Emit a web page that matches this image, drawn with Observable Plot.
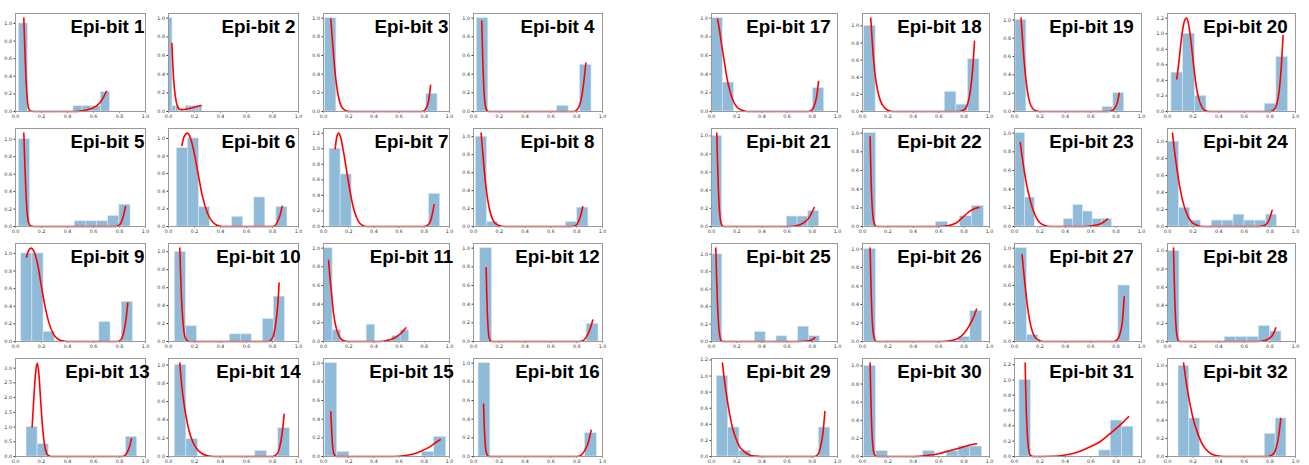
<!DOCTYPE html>
<html><head><meta charset="utf-8">
<script src="https://cdn.jsdelivr.net/npm/d3@7"></script>
<script src="https://cdn.jsdelivr.net/npm/@observablehq/plot@0.6"></script>
<style>
body{margin:0;background:#fff}
#fig{position:relative;width:1309px;height:465px;overflow:hidden}
#fig svg{position:absolute;overflow:visible}
</style>
</head><body><div id="fig"></div>
<script>
const titles = Array.from({length:32},(_, i)=>"Epi-bit " + (i+1));
// histogram range (first bin start, last bin end), 10 bins each
const binLo = [0.026,0.005,0.013,0.026,0.026,0.064,0.048,0.018,0.044,0.049,0.005,0.052,0.085,0.049,0.013,0.039,
               0.0,0.013,0.008,0.031,0.0,0.013,0.008,0.005,0.0,0.013,0.008,0.005,0.042,0.013,0.039,0.086];
const binHi = [0.726,0.26,0.905,0.915,0.885,0.915,0.926,0.891,0.903,0.895,0.68,0.969,0.936,0.933,0.974,0.956,
               0.894,0.921,0.864,0.942,0.854,0.955,0.767,0.856,0.86,0.942,0.908,0.89,0.942,0.942,0.937,0.929];
const binHeights = [
 [1,0,0,0,0,0,0.06,0.06,0.06,0.22],
 [1,0.06,0.06,0,0,0.06,0.06,0.06,0.06,0.06],
 [1,0,0,0,0,0,0,0,0,0.19],
 [1,0,0,0,0,0,0,0.06,0,0.5],
 [1,0,0,0,0,0.06,0.06,0.06,0.12,0.25],
 [0.89,1,0.22,0,0,0.11,0,0.33,0,0.22],
 [1,0.67,0,0,0,0,0,0,0,0.42],
 [1,0.05,0,0,0,0,0,0,0.05,0.21],
 [1,1,0.11,0,0,0,0,0.22,0,0.45],
 [1,0.17,0,0,0,0.08,0.08,0,0.25,0.5],
 [1,0.12,0,0,0,0.18,0,0,0.06,0.12],
 [1,0,0,0,0,0,0,0,0,0.19],
 [1,0.42,0,0,0,0,0,0,0,0.67],
 [1,0.19,0,0,0,0,0,0.06,0,0.31],
 [1,0.05,0,0,0,0,0,0,0.05,0.21],
 [1,0,0,0,0,0,0,0,0,0.25],
 [1,0.31,0,0,0,0,0,0,0,0.25],
 [1,0,0,0,0,0,0,0.23,0.08,0.61],
 [1,0,0,0,0,0,0,0,0.05,0.2],
 [0.5,1,0.2,0,0,0,0,0,0.1,0.7],
 [1,0,0,0,0,0,0,0.11,0.11,0.17],
 [1,0,0,0,0,0,0.05,0,0.11,0.22],
 [1,0.31,0,0,0,0.08,0.23,0.16,0.08,0.08],
 [1,0.22,0.07,0,0.07,0.07,0.14,0.07,0.07,0.14],
 [1,0,0,0,0.11,0,0.06,0,0.17,0.06],
 [1,0,0,0,0,0,0,0,0.05,0.33],
 [1,0.07,0,0,0,0,0,0,0,0.6],
 [1,0,0,0,0,0.05,0.05,0.05,0.17,0.11],
 [1,0.36,0.07,0,0,0,0,0,0,0.36],
 [1,0.06,0,0,0,0.06,0,0.06,0.11,0.11],
 [1,0,0,0,0,0,0,0.08,0.47,0.39],
 [1,0.42,0,0,0,0,0,0,0.25,0.42]
];
// fitted density curves, [x, y] points
const curves = [
 [[0.064,1.06],[0.072,0.7],[0.08,0.4],[0.09,0.15],[0.1,0.04],[0.115,0.005],[0.14,0],[0.45,0],[0.52,0.01],[0.58,0.03],[0.62,0.06],[0.66,0.12],[0.70,0.23]],
 [[0.026,0.73],[0.035,0.45],[0.045,0.25],[0.06,0.1],[0.075,0.04],[0.09,0.022],[0.11,0.02],[0.15,0.03],[0.2,0.045],[0.25,0.065]],
 [[0.058,0.99],[0.07,0.78],[0.085,0.52],[0.1,0.32],[0.12,0.15],[0.14,0.06],[0.17,0.015],[0.2,0.002],[0.22,0],[0.78,0],[0.8,0.01],[0.82,0.05],[0.835,0.12],[0.85,0.28]],
 [[0.064,0.97],[0.072,0.55],[0.08,0.25],[0.09,0.08],[0.105,0.01],[0.12,0],[0.78,0],[0.8,0.015],[0.83,0.1],[0.85,0.26],[0.871,0.52]],
 [[0.064,1.07],[0.072,0.7],[0.08,0.4],[0.09,0.15],[0.1,0.05],[0.115,0.008],[0.14,0],[0.77,0],[0.79,0.01],[0.81,0.04],[0.83,0.12],[0.846,0.23]],
 [[0.103,0.92],[0.12,1.02],[0.146,1.06],[0.17,1.0],[0.2,0.82],[0.23,0.58],[0.26,0.35],[0.3,0.15],[0.34,0.05],[0.38,0.01],[0.42,0],[0.8,0],[0.82,0.01],[0.84,0.06],[0.86,0.14],[0.875,0.23]],
 [[0.093,1.0],[0.105,1.15],[0.12,1.2],[0.135,1.15],[0.16,0.95],[0.19,0.65],[0.22,0.37],[0.25,0.17],[0.28,0.06],[0.31,0.015],[0.34,0],[0.8,0],[0.83,0.02],[0.855,0.1],[0.878,0.28]],
 [[0.059,1.04],[0.07,0.85],[0.085,0.6],[0.1,0.4],[0.12,0.22],[0.14,0.11],[0.165,0.04],[0.2,0.01],[0.24,0],[0.76,0],[0.79,0.01],[0.815,0.06],[0.83,0.12],[0.847,0.22]],
 [[0.085,0.96],[0.1,1.03],[0.12,1.06],[0.14,1.03],[0.17,0.88],[0.2,0.62],[0.23,0.38],[0.26,0.2],[0.29,0.09],[0.32,0.035],[0.36,0.008],[0.4,0],[0.78,0],[0.81,0.02],[0.835,0.12],[0.85,0.25],[0.864,0.44]],
 [[0.087,1.04],[0.092,0.8],[0.098,0.55],[0.105,0.35],[0.115,0.16],[0.125,0.06],[0.14,0.015],[0.16,0],[0.77,0],[0.79,0.02],[0.81,0.08],[0.825,0.2],[0.84,0.4],[0.851,0.65]],
 [[0.04,0.87],[0.05,0.7],[0.065,0.5],[0.08,0.3],[0.1,0.15],[0.12,0.07],[0.14,0.025],[0.17,0.005],[0.2,0],[0.45,0],[0.5,0.01],[0.55,0.03],[0.6,0.07],[0.653,0.145]],
 [[0.098,0.79],[0.102,0.55],[0.107,0.32],[0.113,0.15],[0.12,0.05],[0.13,0.01],[0.14,0],[0.82,0],[0.85,0.01],[0.875,0.05],[0.9,0.12],[0.925,0.23]],
 [[0.128,1.0],[0.14,1.9],[0.155,2.85],[0.167,3.17],[0.18,2.8],[0.195,1.8],[0.21,0.9],[0.225,0.35],[0.24,0.1],[0.26,0.02],[0.28,0],[0.82,0],[0.84,0.03],[0.86,0.15],[0.878,0.35],[0.892,0.6]],
 [[0.087,1.02],[0.1,0.8],[0.12,0.57],[0.14,0.4],[0.16,0.27],[0.19,0.15],[0.22,0.08],[0.26,0.03],[0.3,0.008],[0.35,0],[0.8,0],[0.83,0.02],[0.855,0.1],[0.875,0.26],[0.89,0.46]],
 [[0.058,0.48],[0.062,0.35],[0.067,0.22],[0.072,0.12],[0.08,0.04],[0.09,0.01],[0.1,0],[0.55,0],[0.65,0.01],[0.72,0.03],[0.78,0.06],[0.84,0.1],[0.88,0.14],[0.926,0.18]],
 [[0.078,0.56],[0.082,0.38],[0.087,0.22],[0.093,0.1],[0.1,0.04],[0.11,0.01],[0.12,0],[0.8,0],[0.83,0.01],[0.86,0.06],[0.89,0.15],[0.912,0.28]],
 [[0.048,0.99],[0.06,0.9],[0.08,0.72],[0.1,0.55],[0.12,0.38],[0.14,0.25],[0.17,0.12],[0.2,0.05],[0.24,0.015],[0.28,0],[0.77,0],[0.8,0.02],[0.82,0.08],[0.837,0.18],[0.849,0.32]],
 [[0.065,1.09],[0.075,0.85],[0.085,0.65],[0.1,0.42],[0.12,0.24],[0.14,0.13],[0.17,0.05],[0.2,0.015],[0.24,0],[0.76,0],[0.8,0.02],[0.83,0.1],[0.85,0.25],[0.868,0.5],[0.882,0.82]],
 [[0.052,1.02],[0.06,0.85],[0.07,0.65],[0.085,0.42],[0.1,0.24],[0.12,0.1],[0.14,0.04],[0.165,0.01],[0.2,0],[0.74,0],[0.77,0.01],[0.79,0.04],[0.81,0.1],[0.825,0.2]],
 [[0.073,0.42],[0.09,0.65],[0.11,0.95],[0.13,1.15],[0.149,1.2],[0.165,1.12],[0.185,0.88],[0.205,0.58],[0.225,0.32],[0.25,0.13],[0.275,0.04],[0.3,0.008],[0.33,0],[0.8,0],[0.83,0.02],[0.855,0.1],[0.875,0.3],[0.89,0.6],[0.903,0.975]],
 [[0.042,1.03],[0.048,0.7],[0.055,0.4],[0.062,0.2],[0.07,0.08],[0.08,0.02],[0.095,0],[0.62,0],[0.68,0.01],[0.73,0.04],[0.77,0.09],[0.795,0.15],[0.815,0.21]],
 [[0.06,0.96],[0.065,0.65],[0.07,0.4],[0.077,0.2],[0.085,0.08],[0.095,0.02],[0.11,0],[0.6,0],[0.68,0.01],[0.74,0.04],[0.79,0.1],[0.84,0.16],[0.88,0.19],[0.916,0.205]],
 [[0.045,0.9],[0.06,0.75],[0.08,0.57],[0.1,0.42],[0.12,0.3],[0.14,0.2],[0.17,0.1],[0.2,0.04],[0.24,0.01],[0.28,0],[0.55,0],[0.62,0.01],[0.68,0.03],[0.733,0.08]],
 [[0.039,1.1],[0.05,0.95],[0.07,0.72],[0.09,0.52],[0.11,0.36],[0.13,0.24],[0.16,0.12],[0.19,0.05],[0.23,0.015],[0.27,0],[0.7,0],[0.75,0.01],[0.78,0.04],[0.8,0.1],[0.817,0.19]],
 [[0.034,1.07],[0.04,0.75],[0.047,0.45],[0.055,0.22],[0.065,0.07],[0.075,0.015],[0.09,0],[0.7,0],[0.76,0.005],[0.8,0.02],[0.82,0.045]],
 [[0.06,1.01],[0.065,0.7],[0.07,0.45],[0.077,0.22],[0.085,0.09],[0.095,0.025],[0.11,0],[0.62,0],[0.7,0.01],[0.76,0.04],[0.8,0.09],[0.84,0.17],[0.87,0.25],[0.898,0.35]],
 [[0.06,0.93],[0.07,0.78],[0.085,0.58],[0.1,0.4],[0.12,0.22],[0.14,0.11],[0.16,0.05],[0.19,0.015],[0.23,0],[0.78,0],[0.81,0.02],[0.83,0.08],[0.85,0.22],[0.864,0.48]],
 [[0.047,1.03],[0.052,0.72],[0.058,0.42],[0.065,0.2],[0.073,0.07],[0.083,0.015],[0.1,0],[0.7,0],[0.76,0.01],[0.8,0.04],[0.825,0.08],[0.846,0.15]],
 [[0.087,1.16],[0.1,0.98],[0.12,0.76],[0.14,0.56],[0.16,0.4],[0.19,0.24],[0.22,0.13],[0.26,0.06],[0.3,0.02],[0.35,0.005],[0.4,0],[0.82,0],[0.85,0.04],[0.87,0.15],[0.885,0.3],[0.9,0.56]],
 [[0.06,1.03],[0.065,0.7],[0.07,0.42],[0.077,0.2],[0.085,0.07],[0.095,0.02],[0.11,0],[0.4,0],[0.5,0.01],[0.6,0.03],[0.7,0.07],[0.78,0.1],[0.84,0.125],[0.898,0.14]],
 [[0.084,1.22],[0.088,0.9],[0.093,0.6],[0.1,0.32],[0.108,0.14],[0.118,0.04],[0.13,0.01],[0.15,0],[0.3,0.003],[0.4,0.02],[0.5,0.06],[0.6,0.13],[0.67,0.19],[0.76,0.31],[0.85,0.44],[0.898,0.52]],
 [[0.126,1.03],[0.14,0.88],[0.16,0.7],[0.18,0.55],[0.2,0.42],[0.23,0.28],[0.26,0.17],[0.3,0.08],[0.34,0.03],[0.39,0.008],[0.44,0],[0.78,0],[0.82,0.02],[0.85,0.1],[0.87,0.24],[0.885,0.42]]
];
const xTicks = [0, 0.2, 0.4, 0.6, 0.8, 1.0];

// layout
const groupLefts = [[15,168,323,473],[711,862,1014,1167]];
const groupWidths = [[130,130,126,129],[126,127,127,128]];
const rowTops = [13,128,243,358];
const panelH = 98;
const titleCenter = [[92,90,88,84],[77,77,77,78]];
const ml = 22, mr = 10, mt = 4, mb = 11;
const fig = document.getElementById("fig");
const fmt = d3.format(".1f");

for (let i = 0; i < 32; i++) {
  const g = i < 16 ? 0 : 1, k = i % 16, row = Math.floor(k / 4), col = k % 4;
  const W = groupWidths[g][col];
  const bw = (binHi[i] - binLo[i]) / 10;
  const bars = binHeights[i].map((h, j) => ({x1: binLo[i] + j * bw, x2: binLo[i] + (j + 1) * bw, y: h})).filter(d => d.y > 0);
  const pts = curves[i].map(([x, y]) => ({x, y}));
  const top = 1.05 * Math.max(d3.max(pts, d => d.y), d3.max(bars, d => d.y));
  const step = top > 2 ? 0.5 : 0.2;
  const n = Math.floor(top / step + 1e-6);
  const yTicks = d3.range(0, n + 1).map(j => +(j * step).toFixed(2));
  const svg = Plot.plot({
    width: W + ml + mr,
    height: panelH + mt + mb,
    marginLeft: ml, marginRight: mr, marginTop: mt, marginBottom: mb,
    style: {fontSize: "4.8px", fontFamily: "DejaVu Sans", color: "#333", background: "transparent", overflow: "visible"},
    x: {domain: [0, 1], ticks: xTicks, tickFormat: fmt, tickSize: 1.5, tickPadding: 1.5, label: null},
    y: {domain: [0, top], ticks: yTicks, tickFormat: fmt, tickSize: 1.5, tickPadding: 2, label: null},
    marks: [
      Plot.rectY(bars, {x1: "x1", x2: "x2", y: "y", fill: "#8fbbd9", stroke: "#d8e8f4", strokeWidth: 0.6, inset: 0}),
      Plot.line(pts, {x: "x", y: "y", stroke: "#ff0000", strokeWidth: 1.6, curve: "monotone-x"}),
      Plot.frame({stroke: "#999", strokeWidth: 1}),
      Plot.text([titles[i]], {text: d => d, frameAnchor: "top-left", textAnchor: "middle", lineAnchor: "bottom",
        dx: titleCenter[g][col], dy: 19.5, fontSize: 18.8, fontWeight: "bold",
        fontFamily: "Liberation Sans, Arial, sans-serif", fill: "black"})
    ]
  });
  svg.style.left = (groupLefts[g][col] - ml) + "px";
  svg.style.top = (rowTops[row] - mt) + "px";
  fig.append(svg);
}
</script>
</body></html>
